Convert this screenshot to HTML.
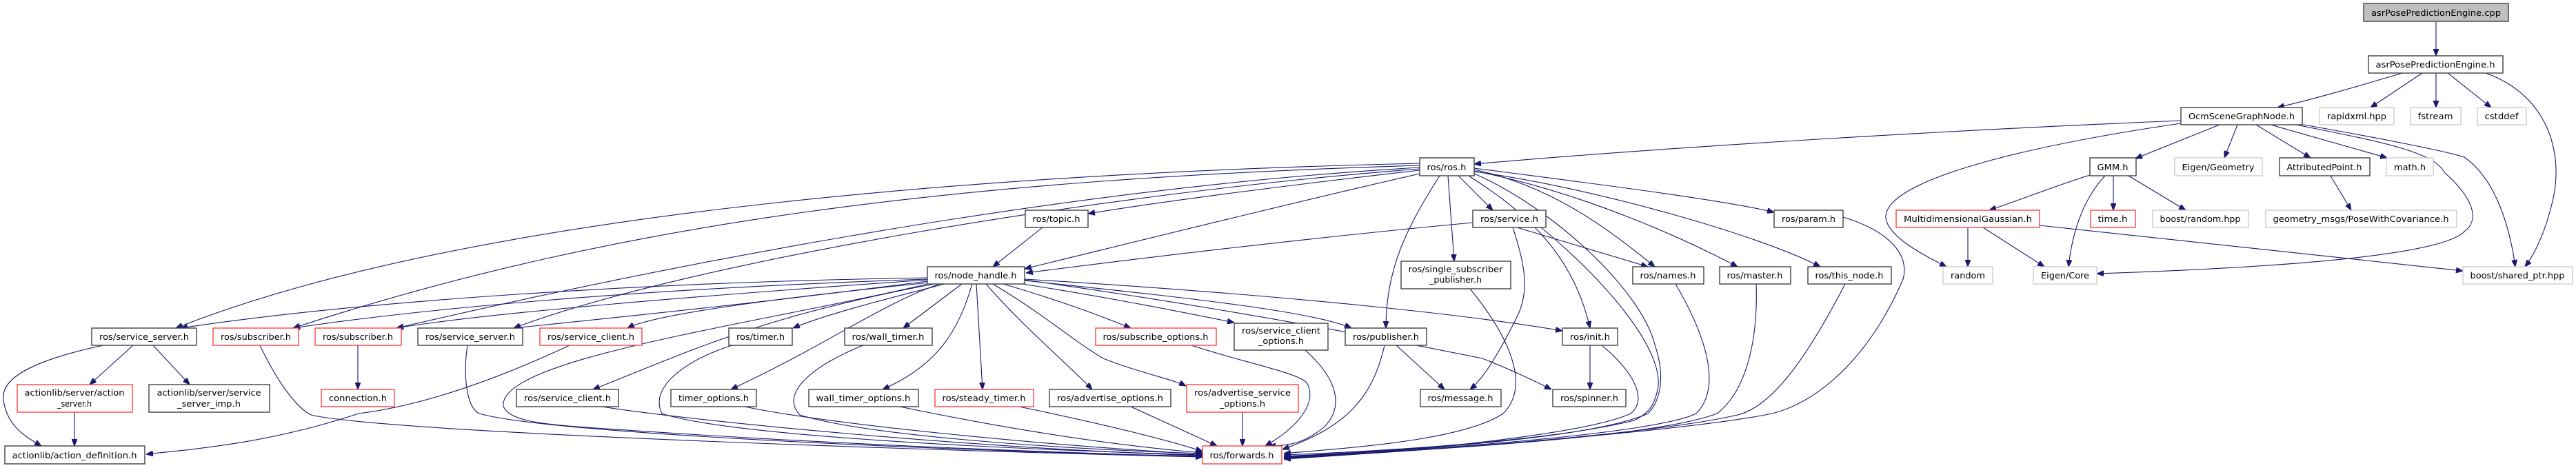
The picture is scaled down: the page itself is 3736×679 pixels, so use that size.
<!DOCTYPE html>
<html><head><meta charset="utf-8"><style>
html,body{margin:0;padding:0;background:#fff;}
svg{display:block;}
text{font-family:"DejaVu Sans","Liberation Sans",sans-serif;font-size:12px;fill:#000;text-anchor:middle;}
.b{fill:#fff;stroke:#404040;stroke-width:1.4;}
.r{fill:#fff;stroke:#ff3333;stroke-width:1.3;}
.g{fill:#fff;stroke:#c8c8c8;stroke-width:1.3;}
.e{fill:none;stroke:#191970;stroke-width:1.1;marker-end:url(#a);}
</style></head><body>
<svg width="3736" height="679" viewBox="0 0 3736 679" xmlns="http://www.w3.org/2000/svg">
<defs><marker id="a" markerWidth="10" markerHeight="8" refX="10" refY="4" orient="auto" markerUnits="userSpaceOnUse"><path d="M0,0 L10,4 L0,8 z" fill="#191970" stroke="#191970"/></marker></defs>

<!-- edges -->
<path class="e" d="M3533 32 L3533 81"/>
<path class="e" d="M3484 106 C3420 125,3370 140,3303 156"/>
<path class="e" d="M3513 106 L3438 156"/>
<path class="e" d="M3533 106 L3533 156"/>
<path class="e" d="M3550 106 L3613 156"/>
<path class="e" d="M3605 106 C3700 140,3720 230,3700 300 C3690 340,3675 370,3662 387"/>
<path class="e" d="M3163 175 C2800 190,2400 215,2138 238"/>
<path class="e" d="M3163 179 C2950 210,2730 260,2735 317 C2740 345,2790 370,2823 387"/>
<path class="e" d="M3219 181 L3097 230"/>
<path class="e" d="M3245 181 L3226 229"/>
<path class="e" d="M3272 181 L3351 229"/>
<path class="e" d="M3293 181 L3462 229"/>
<path class="e" d="M3330 181 C3450 205,3530 220,3545 250 C3590 290,3595 320,3575 335 C3540 375,3250 390,3041 397"/>
<path class="e" d="M3335 180 C3450 200,3550 220,3574 228 C3620 260,3640 330,3648 387"/>
<path class="e" d="M3031 254 C2980 270,2930 290,2885 305"/>
<path class="e" d="M3065 255 L3065 305"/>
<path class="e" d="M3087 255 L3170 305"/>
<path class="e" d="M3053 255 C3020 290,3005 340,3000 387"/>
<path class="e" d="M2854 330 L2854 387"/>
<path class="e" d="M2876 330 L2965 387"/>
<path class="e" d="M2958 327 L3572 393"/>
<path class="e" d="M3380 255 L3410 305"/>

<path class="e" d="M2059 247 C1900 265,1700 290,1578 310"/>
<path class="e" d="M2059 252 C1850 300,1650 350,1486 390"/>
<path class="e" d="M2136 323 C1900 345,1650 375,1488 396"/>
<path class="e" d="M1512 330 L1440 387"/>
<path class="e" d="M2115 255 L2165 305"/>
<path class="e" d="M2100 255 L2109 379"/>
<path class="e" d="M2088 255 C2040 330,2010 390,2010 476"/>
<path class="e" d="M2059 237 C1500 250,700 300,255 476"/>
<path class="e" d="M2059 240 C1400 260,900 320,425 476"/>
<path class="e" d="M2059 243 C1500 275,900 400,575 476"/>
<path class="e" d="M2059 245 C1600 280,1000 380,745 476"/>
<path class="e" d="M2130 255 C2200 300,2280 360,2306 476"/>
<path class="e" d="M2138 246 C2250 270,2330 330,2400 387"/>
<path class="e" d="M2138 248 C2300 280,2450 350,2520 387"/>
<path class="e" d="M2138 249 C2300 270,2550 340,2640 387"/>
<path class="e" d="M2138 244 C2300 265,2500 290,2573 308"/>
<path class="e" d="M2138 252 C2250 300,2380 420,2400 500 C2420 560,2400 590,2390 600 C2300 640,2000 655,1862 662"/>
<path class="e" d="M2200 330 L2390 387"/>
<path class="e" d="M2194 330 C2210 380,2220 420,2200 460 C2170 520,2150 550,2132 565"/>
<path class="e" d="M2235 330 C2320 400,2410 500,2405 560 C2400 590,2390 600,2370 610 C2250 640,2000 655,1862 660"/>
<path class="e" d="M2430 412 C2470 480,2500 560,2460 600 C2400 630,2050 655,1862 662"/>
<path class="e" d="M2547 412 C2550 500,2530 570,2490 600 C2400 635,2050 655,1862 663"/>
<path class="e" d="M2676 412 C2620 520,2570 590,2520 602 C2400 630,2050 656,1862 664"/>
<path class="e" d="M2673 315 C2740 335,2770 370,2760 405 C2720 500,2650 580,2570 600 C2450 625,2050 656,1862 665"/>
<path class="e" d="M2323 501 C2370 540,2390 580,2365 600 C2300 630,2050 655,1862 666"/>
<path class="e" d="M2306 501 L2306 565"/>
<path class="e" d="M2132 419 C2190 490,2220 560,2180 600 C2120 640,1950 650,1862 658"/>
<path class="e" d="M2008 501 C1990 580,1950 620,1860 652"/>
<path class="e" d="M2025 501 L2095 565"/>
<path class="e" d="M1893 508 C1940 550,1950 590,1920 620 C1895 640,1875 647,1840 647"/>
<path class="e" d="M1728 501 C1800 525,1880 540,1895 555 C1910 580,1890 615,1835 647"/>
<path class="e" d="M1802 598 L1802 647"/>
<path class="e" d="M1640 590 L1765 647"/>

<path class="e" d="M1345 403 C900 410,500 440,262 476"/>
<path class="e" d="M1345 405 C900 420,600 450,425 476"/>
<path class="e" d="M1345 406 C1000 430,700 455,575 476"/>
<path class="e" d="M1345 408 C1100 440,900 460,745 476"/>
<path class="e" d="M1348 410 C1150 430,950 455,910 476"/>
<path class="e" d="M1355 412 C1100 460,1000 510,860 565"/>
<path class="e" d="M1370 412 C1300 430,1200 455,1150 476"/>
<path class="e" d="M1363 412 C1280 440,1200 500,1060 565"/>
<path class="e" d="M1395 412 L1310 476"/>
<path class="e" d="M1410 412 C1390 480,1360 530,1280 565"/>
<path class="e" d="M1416 412 L1425 565"/>
<path class="e" d="M1430 412 C1480 470,1550 530,1584 565"/>
<path class="e" d="M1440 412 C1520 460,1550 490,1600 520 C1650 540,1700 550,1720 560"/>
<path class="e" d="M1455 412 C1550 440,1600 460,1640 476"/>
<path class="e" d="M1470 410 C1600 430,1700 450,1790 468"/>
<path class="e" d="M1486 407 C1700 430,1900 450,1960 476"/>
<path class="e" d="M1486 405 C1900 430,2150 460,2266 480"/>
<path class="e" d="M1486 406 C1800 450,2050 500,2150 520 C2200 540,2230 555,2250 565"/>
<path class="e" d="M1350 411 C1100 470,720 520,730 590 C740 610,780 615,850 620 C1200 645,1500 655,1744 663"/>

<path class="e" d="M193 501 L130 558"/>
<path class="e" d="M222 501 L275 558"/>
<path class="e" d="M108 598 L108 647"/>
<path class="e" d="M150 501 C60 520,0 545,5 580 C10 620,40 635,60 647"/>
<path class="e" d="M519 501 L519 565"/>
<path class="e" d="M826 501 C700 560,600 590,520 600 C400 640,300 650,212 659"/>
<path class="e" d="M377 501 C410 570,440 600,455 603 C600 630,1400 655,1744 663"/>
<path class="e" d="M678 501 C672 540,675 590,695 600 C800 630,1400 655,1744 662"/>
<path class="e" d="M873 590 C1000 610,1400 650,1744 661"/>
<path class="e" d="M1062 501 C1000 520,940 560,960 600 C1050 630,1400 650,1744 660"/>
<path class="e" d="M1080 590 C1200 615,1500 645,1744 659"/>
<path class="e" d="M1252 501 C1180 530,1130 570,1160 602 C1250 630,1500 650,1744 658"/>
<path class="e" d="M1305 590 C1450 620,1600 645,1744 657"/>
<path class="e" d="M1478 590 C1600 615,1700 640,1744 655"/>

<!-- nodes -->
<rect x="3428" y="5" width="210" height="26" fill="#bfbfbf" stroke="#404040" stroke-width="1.4"/><text x="3533" y="23" textLength="188" lengthAdjust="spacingAndGlyphs">asrPosePredictionEngine.cpp</text>
<rect class="b" x="3435" y="81" width="195" height="25"/><text x="3532" y="98" textLength="173" lengthAdjust="spacingAndGlyphs">asrPosePredictionEngine.h</text>
<rect class="b" x="3163" y="156" width="176" height="25"/><text x="3251" y="173" textLength="154" lengthAdjust="spacingAndGlyphs">OcmSceneGraphNode.h</text>
<rect class="g" x="3364" y="156" width="108" height="25"/><text x="3418" y="173" textLength="86" lengthAdjust="spacingAndGlyphs">rapidxml.hpp</text>
<rect class="g" x="3496" y="156" width="73" height="25"/><text x="3532" y="173" textLength="51" lengthAdjust="spacingAndGlyphs">fstream</text>
<rect class="g" x="3593" y="156" width="71" height="25"/><text x="3628" y="173" textLength="49" lengthAdjust="spacingAndGlyphs">cstddef</text>

<rect class="b" x="2059" y="229" width="79" height="26"/><text x="2098" y="247" textLength="57" lengthAdjust="spacingAndGlyphs">ros/ros.h</text>
<rect class="b" x="3031" y="229" width="67" height="26"/><text x="3064" y="247" textLength="45" lengthAdjust="spacingAndGlyphs">GMM.h</text>
<rect class="g" x="3154" y="229" width="127" height="26"/><text x="3217" y="247" textLength="105" lengthAdjust="spacingAndGlyphs">Eigen/Geometry</text>
<rect class="b" x="3306" y="229" width="131" height="26"/><text x="3371" y="247" textLength="109" lengthAdjust="spacingAndGlyphs">AttributedPoint.h</text>
<rect class="g" x="3461" y="229" width="68" height="26"/><text x="3495" y="247" textLength="46" lengthAdjust="spacingAndGlyphs">math.h</text>

<rect class="b" x="1487" y="305" width="91" height="25"/><text x="1532" y="322" textLength="69" lengthAdjust="spacingAndGlyphs">ros/topic.h</text>
<rect class="b" x="2136" y="305" width="106" height="25"/><text x="2189" y="322" textLength="84" lengthAdjust="spacingAndGlyphs">ros/service.h</text>
<rect class="b" x="2573" y="305" width="100" height="25"/><text x="2623" y="322" textLength="78" lengthAdjust="spacingAndGlyphs">ros/param.h</text>
<rect class="r" x="2750" y="305" width="208" height="25"/><text x="2854" y="322" textLength="186" lengthAdjust="spacingAndGlyphs">MultidimensionalGaussian.h</text>
<rect class="r" x="3032" y="305" width="65" height="25"/><text x="3064" y="322" textLength="43" lengthAdjust="spacingAndGlyphs">time.h</text>
<rect class="g" x="3122" y="305" width="139" height="25"/><text x="3191" y="322" textLength="117" lengthAdjust="spacingAndGlyphs">boost/random.hpp</text>
<rect class="g" x="3286" y="305" width="277" height="25"/><text x="3424" y="322" textLength="255" lengthAdjust="spacingAndGlyphs">geometry_msgs/PoseWithCovariance.h</text>

<rect class="b" x="1345" y="387" width="141" height="25"/><text x="1415" y="404" textLength="119" lengthAdjust="spacingAndGlyphs">ros/node_handle.h</text>
<rect class="b" x="2032" y="379" width="159" height="40"/><text x="2111" y="395" textLength="137" lengthAdjust="spacingAndGlyphs">ros/single_subscriber</text><text x="2111" y="410" textLength="76" lengthAdjust="spacingAndGlyphs">_publisher.h</text>
<rect class="b" x="2368" y="387" width="103" height="25"/><text x="2419" y="404" textLength="81" lengthAdjust="spacingAndGlyphs">ros/names.h</text>
<rect class="b" x="2494" y="387" width="103" height="25"/><text x="2545" y="404" textLength="81" lengthAdjust="spacingAndGlyphs">ros/master.h</text>
<rect class="b" x="2622" y="387" width="121" height="25"/><text x="2682" y="404" textLength="99" lengthAdjust="spacingAndGlyphs">ros/this_node.h</text>
<rect class="g" x="2818" y="387" width="72" height="25"/><text x="2854" y="404" textLength="50" lengthAdjust="spacingAndGlyphs">random</text>
<rect class="g" x="2949" y="387" width="92" height="25"/><text x="2995" y="404" textLength="70" lengthAdjust="spacingAndGlyphs">Eigen/Core</text>
<rect class="g" x="3572" y="387" width="159" height="25"/><text x="3651" y="404" textLength="137" lengthAdjust="spacingAndGlyphs">boost/shared_ptr.hpp</text>

<rect class="b" x="133" y="476" width="152" height="25"/><text x="209" y="493" textLength="130" lengthAdjust="spacingAndGlyphs">ros/service_server.h</text>
<rect class="r" x="309" y="476" width="124" height="25"/><text x="371" y="493" textLength="102" lengthAdjust="spacingAndGlyphs">ros/subscriber.h</text>
<rect class="r" x="457" y="476" width="125" height="25"/><text x="519" y="493" textLength="102" lengthAdjust="spacingAndGlyphs">ros/subscriber.h</text>
<rect class="b" x="606" y="476" width="152" height="25"/><text x="682" y="493" textLength="130" lengthAdjust="spacingAndGlyphs">ros/service_server.h</text>
<rect class="r" x="783" y="476" width="148" height="25"/><text x="857" y="493" textLength="126" lengthAdjust="spacingAndGlyphs">ros/service_client.h</text>
<rect class="b" x="1057" y="476" width="92" height="25"/><text x="1103" y="493" textLength="70" lengthAdjust="spacingAndGlyphs">ros/timer.h</text>
<rect class="b" x="1225" y="476" width="127" height="25"/><text x="1288" y="493" textLength="105" lengthAdjust="spacingAndGlyphs">ros/wall_timer.h</text>
<rect class="r" x="1589" y="476" width="175" height="25"/><text x="1676" y="493" textLength="153" lengthAdjust="spacingAndGlyphs">ros/subscribe_options.h</text>
<rect class="b" x="1790" y="469" width="136" height="39"/><text x="1858" y="484" textLength="114" lengthAdjust="spacingAndGlyphs">ros/service_client</text><text x="1858" y="499" textLength="66" lengthAdjust="spacingAndGlyphs">_options.h</text>
<rect class="b" x="1951" y="476" width="118" height="25"/><text x="2010" y="493" textLength="96" lengthAdjust="spacingAndGlyphs">ros/publisher.h</text>
<rect class="b" x="2266" y="476" width="80" height="25"/><text x="2306" y="493" textLength="58" lengthAdjust="spacingAndGlyphs">ros/init.h</text>

<rect class="r" x="25" y="558" width="167" height="40"/><text x="108" y="574" textLength="145" lengthAdjust="spacingAndGlyphs">actionlib/server/action</text><text x="108" y="590" textLength="50" lengthAdjust="spacingAndGlyphs">_server.h</text>
<rect class="b" x="216" y="558" width="175" height="40"/><text x="303" y="574" textLength="151" lengthAdjust="spacingAndGlyphs">actionlib/server/service</text><text x="303" y="590" textLength="92" lengthAdjust="spacingAndGlyphs">_server_imp.h</text>
<rect class="r" x="466" y="565" width="106" height="25"/><text x="519" y="582" textLength="84" lengthAdjust="spacingAndGlyphs">connection.h</text>
<rect class="b" x="749" y="565" width="148" height="25"/><text x="823" y="582" textLength="126" lengthAdjust="spacingAndGlyphs">ros/service_client.h</text>
<rect class="b" x="973" y="565" width="124" height="25"/><text x="1035" y="582" textLength="102" lengthAdjust="spacingAndGlyphs">timer_options.h</text>
<rect class="b" x="1173" y="565" width="159" height="25"/><text x="1252" y="582" textLength="137" lengthAdjust="spacingAndGlyphs">wall_timer_options.h</text>
<rect class="r" x="1356" y="565" width="143" height="25"/><text x="1427" y="582" textLength="121" lengthAdjust="spacingAndGlyphs">ros/steady_timer.h</text>
<rect class="b" x="1522" y="565" width="176" height="25"/><text x="1610" y="582" textLength="154" lengthAdjust="spacingAndGlyphs">ros/advertise_options.h</text>
<rect class="r" x="1721" y="558" width="162" height="40"/><text x="1802" y="574" textLength="140" lengthAdjust="spacingAndGlyphs">ros/advertise_service</text><text x="1802" y="590" textLength="66" lengthAdjust="spacingAndGlyphs">_options.h</text>
<rect class="b" x="2060" y="565" width="117" height="25"/><text x="2118" y="582" textLength="95" lengthAdjust="spacingAndGlyphs">ros/message.h</text>
<rect class="b" x="2252" y="565" width="106" height="25"/><text x="2305" y="582" textLength="84" lengthAdjust="spacingAndGlyphs">ros/spinner.h</text>

<rect class="b" x="7" y="647" width="203" height="26"/><text x="108" y="665" textLength="181" lengthAdjust="spacingAndGlyphs">actionlib/action_definition.h</text>
<rect class="r" x="1744" y="647" width="115" height="26"/><text x="1801" y="665" textLength="93" lengthAdjust="spacingAndGlyphs">ros/forwards.h</text>
</svg>
</body></html>
